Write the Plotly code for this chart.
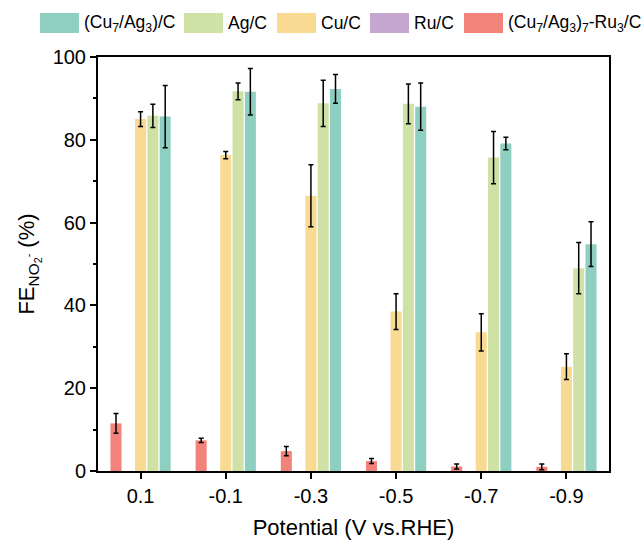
import plotly.graph_objects as go

potentials = ["0.1", "-0.1", "-0.3", "-0.5", "-0.7", "-0.9"]

cuag_ru = [11.5, 7.4, 4.8, 2.4, 1.1, 1.0]
cuag_ru_err = [2.4, 0.5, 1.1, 0.6, 0.6, 0.7]
ru = [0, 0, 0, 0, 0, 0]
ru_err = [0, 0, 0, 0, 0, 0]
cu = [85.0, 76.3, 66.5, 38.5, 33.5, 25.2]
cu_err = [1.8, 0.9, 7.5, 4.3, 4.5, 3.1]
ag = [85.8, 91.7, 88.8, 88.7, 75.7, 49.0]
ag_err = [2.8, 2.0, 5.6, 4.8, 6.3, 6.2]
cuag = [85.6, 91.6, 92.3, 88.0, 79.1, 54.8]
cuag_err = [7.5, 5.6, 3.5, 5.7, 1.5, 5.4]

names = ["(Cu<sub>7</sub>/Ag<sub>3</sub>)<sub>7</sub>-Ru<sub>3</sub>/C", "Ru/C", "Cu/C", "Ag/C",
         "(Cu<sub>7</sub>/Ag<sub>3</sub>)/C"]
colors = ["#f1837a", "#c5a6cf", "#f9da92", "#cfe2a6", "#8ecfc1"]
series = [cuag_ru, ru, cu, ag, cuag]
errs = [cuag_ru_err, ru_err, cu_err, ag_err, cuag_err]

fig = go.Figure()
for nm, col, ys, es in zip(names, colors, series, errs):
    show_err = any(e > 0 for e in es)
    fig.add_trace(go.Bar(
        x=potentials, y=ys, name=nm,
        marker=dict(color=col, line=dict(width=0)),
        error_y=dict(type="data", array=es, visible=show_err, color="black",
                     thickness=1.5, width=2.5),
        showlegend=False,
    ))

# custom legend (top, horizontal)
leg_items = list(zip(names, colors))[::-1]
sw_x = [40, 184, 277, 370, 464]
for (nm, col), x0 in zip(leg_items, sw_x):
    fig.add_shape(type="rect", xref="paper", yref="paper",
                  x0=(x0 - 98) / 511, x1=(x0 + 39 - 98) / 511,
                  y0=(471 - 33) / 414, y1=(471 - 13) / 414,
                  fillcolor=col, line=dict(width=0))
    fig.add_annotation(xref="paper", yref="paper", x=(x0 + 42 - 98) / 511,
                       y=(471 - 23) / 414, text=nm, showarrow=False,
                       xanchor="left", yanchor="middle",
                       font=dict(size=17.5, color="black"))

fig.update_layout(
    width=644, height=546,
    margin=dict(l=98, r=35, t=57, b=75),
    plot_bgcolor="white", paper_bgcolor="white",
    barmode="group", bargap=0.278, bargroupgap=0.1,
    font=dict(family="Liberation Sans, Arial", size=16, color="black"),
    xaxis=dict(
        range=[-0.5, 5.5], showline=True, linecolor="black", linewidth=2,
        mirror=True, ticks="outside", ticklen=6, tickwidth=1.5, tickcolor="black",
        tickfont=dict(size=20), automargin=False,
        title=dict(text="Potential (V vs.RHE)", font=dict(size=22), standoff=14),
    ),
    yaxis=dict(
        range=[0, 100], tickvals=[0, 20, 40, 60, 80, 100], showline=True,
        linecolor="black", linewidth=2, mirror=True, ticks="outside", ticklen=6,
        tickwidth=1.5, tickcolor="black", showgrid=False, zeroline=False,
        tickfont=dict(size=20), automargin=False,
        minor=dict(tickvals=[10, 30, 50, 70, 90], ticks="outside", ticklen=3,
                   tickwidth=1.5, tickcolor="black", showgrid=False),
        title=dict(text="FE<sub>NO<sub>2</sub><sup>-</sup></sub> (%)", font=dict(size=22),
                   standoff=12),
    ),
)

fig.write_html("out.html")
